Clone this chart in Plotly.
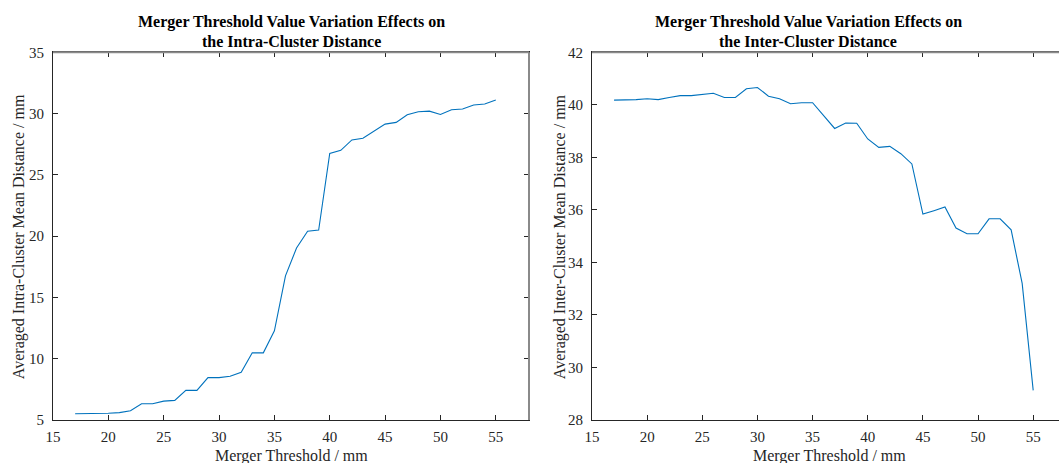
import plotly.graph_objects as go

W, H = 1059, 463

threshold = list(range(17, 56))

intra_dist = [5.51, 5.51, 5.52, 5.55, 5.60, 5.75, 6.33, 6.33, 6.54, 6.60,
              7.42, 7.42, 8.46, 8.46, 8.57, 8.90, 10.48, 10.48, 12.28, 16.76,
              19.03, 20.40, 20.50, 26.74, 27.00, 27.85, 27.99, 28.59, 29.14, 29.28,
              29.90, 30.15, 30.20, 29.93, 30.31, 30.37, 30.70, 30.78, 31.10]

inter_dist = [40.18, 40.18, 40.20, 40.23, 40.20, 40.28, 40.35, 40.35, 40.39, 40.44,
              40.28, 40.28, 40.61, 40.66, 40.33, 40.23, 40.04, 40.08, 40.08, 39.57,
              39.10, 39.31, 39.30, 38.70, 38.38, 38.42, 38.14, 37.75, 35.84, 35.97,
              36.11, 35.31, 35.09, 35.09, 35.66, 35.66, 35.24, 33.20, 29.13]

title_lines = [["Merger Threshold Value Variation Effects on", "the Intra-Cluster Distance"],
               ["Merger Threshold Value Variation Effects on", "the Inter-Cluster Distance"]]
xlabel = "Merger Threshold / mm"
ylabels = ["Averaged Intra-Cluster Mean Distance / mm",
           "Averaged Inter-Cluster Mean Distance / mm"]

FONT = "Liberation Serif"
DARK = "#262626"
LINE = "#0072BD"

# pixel geometry
L1, R1 = 53, 529
L2, R2 = 592, 1059
TOP, BOT = 52.3, 420

def px(x):
    return x / W

def py(y):
    return 1 - y / H

fig = go.Figure()
fig.add_trace(go.Scatter(x=threshold, y=intra_dist, mode="lines",
                         line=dict(color=LINE, width=1.1), xaxis="x", yaxis="y",
                         showlegend=False))
fig.add_trace(go.Scatter(x=threshold, y=inter_dist, mode="lines",
                         line=dict(color=LINE, width=1.1), xaxis="x2", yaxis="y2",
                         showlegend=False))

common_ax = dict(showgrid=False, zeroline=False, showline=True, linecolor=DARK,
                 linewidth=1, ticks="inside", ticklen=5, tickcolor=DARK,
                 automargin=False,
                 tickfont=dict(family=FONT, size=15, color=DARK))

fig.update_layout(
    width=W, height=H,
    margin=dict(l=0, r=0, t=0, b=0, pad=0),
    paper_bgcolor="white", plot_bgcolor="white",
    showlegend=False,
    xaxis=dict(domain=[px(L1), px(R1)], range=[15, 58], tick0=15, dtick=5,
               anchor="y", mirror="allticks", ticklabelstandoff=3, **common_ax),
    yaxis=dict(domain=[py(BOT), py(TOP)], range=[5, 35], tick0=5, dtick=5,
               anchor="x", mirror="allticks", ticklabelstandoff=5, **common_ax),
    xaxis2=dict(domain=[px(L2), px(R2)], range=[15, 15 + (R2 - L2) / 11.03],
                tick0=15, dtick=5, anchor="y2", mirror="allticks",
                ticklabelstandoff=3, **common_ax),
    yaxis2=dict(domain=[py(BOT), py(TOP)], range=[28, 42], tick0=28, dtick=2,
                anchor="x2", mirror=False, ticklabelstandoff=5, **common_ax),
)

# lighter box edges (top / right) as in the original
GRAY = "#8a8a8a"
fig.add_shape(type="line", xref="paper", yref="paper",
              x0=px(L1), x1=px(R1), y0=py(TOP), y1=py(TOP),
              line=dict(color=GRAY, width=2))
fig.add_shape(type="line", xref="paper", yref="paper",
              x0=px(R1), x1=px(R1), y0=py(TOP), y1=py(BOT),
              line=dict(color=GRAY, width=2))
fig.add_shape(type="line", xref="paper", yref="paper",
              x0=px(L2), x1=1, y0=py(TOP), y1=py(TOP),
              line=dict(color=GRAY, width=2))

ann = []
title_cx = [291, 808]
xlab_cx = [291, 829]
ylab_x = [19, 560]
for i in range(2):
    for j, yy in enumerate([22, 42]):
        ann.append(dict(text="<b>" + title_lines[i][j] + "</b>", x=px(title_cx[i]), y=py(yy),
                        xref="paper", yref="paper",
                        xanchor="center", yanchor="middle", showarrow=False,
                        font=dict(family=FONT, size=16, color="black")))
    ann.append(dict(text=xlabel, x=px(xlab_cx[i]), y=py(456), xref="paper", yref="paper",
                    xanchor="center", yanchor="middle", showarrow=False,
                    font=dict(family=FONT, size=16, color=DARK)))
    ann.append(dict(text=ylabels[i], x=px(ylab_x[i]), y=py((TOP + BOT) / 2 + 1),
                    xref="paper", yref="paper", textangle=-90,
                    xanchor="center", yanchor="middle", showarrow=False,
                    font=dict(family=FONT, size=16, color=DARK)))
fig.update_layout(annotations=ann)

fig.write_html("out.html")
